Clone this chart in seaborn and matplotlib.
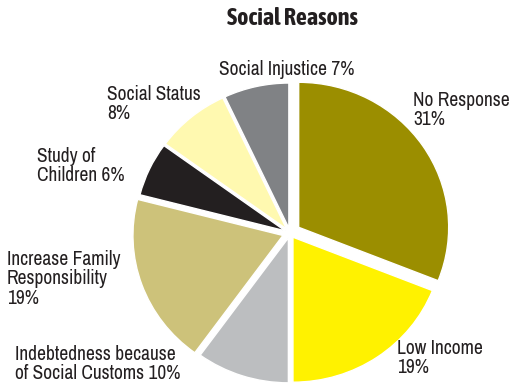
import matplotlib
matplotlib.use("Agg")
import matplotlib.pyplot as plt
from matplotlib import font_manager as fm
import seaborn as sns

# Social reasons survey results (percent), clockwise from 12 o'clock
categories = ["No Response", "Low Income", "Indebtedness because of Social Customs",
              "Increase Family Responsibility", "Study of Children", "Social Status",
              "Social Injustice"]
values = [31, 19, 10, 19, 6, 8, 7]
label_texts = ["No Response\n31%", "Low Income\n19%", "Indebtedness because\nof Social Customs 10%",
               "Increase Family\nResponsibility\n19%", "Study of\nChildren 6%", "Social Status\n8%",
               "Social Injustice 7%"]
colors = ["#9b8e00", "#fff200", "#bcbec0", "#cdc27a", "#231f20", "#fff9b0", "#808285"]

sns.set_theme(style="white")

# prefer a narrow face if one is around, else Lato
fonts = fm.fontManager.ttflist
narrow = sorted({f.name for f in fonts if "Narrow" in f.name or "Condensed" in f.name})
base = narrow[0] if narrow else "Lato"
narrow_bold = sorted({f.name for f in fonts
                      if ("Narrow" in f.name or "Condensed" in f.name)
                      and (f.weight == "bold" or (isinstance(f.weight, int) and f.weight >= 600))})
title_font = narrow_bold[0] if narrow_bold else "Lato"
plt.rcParams["font.family"] = [base, "DejaVu Sans"]
fs = 14 if narrow else 11.5

fig = plt.figure(figsize=(5.11, 3.87), dpi=100)
ax = fig.add_axes([0, 0, 1, 1])

# explode per slice (No Response pulled out a bit further)
explode = [0.07, 0.035, 0.035, 0.05, 0.035, 0.035, 0.035]
ax.pie(values, colors=colors, startangle=90, counterclock=False,
       explode=explode, radius=1,
       wedgeprops=dict(edgecolor="white", linewidth=1))

# pixel layout: pie centre (cx, cy) from top-left, sx/sy px per unit
sx, sy = 150.0, 145.0
cx, cy = 290.0, 233.0
ax.set_aspect("auto")
ax.set_xlim(-cx / sx, (511 - cx) / sx)
ax.set_ylim(-(387 - cy) / sy, cy / sy)
ax.axis("off")

def px(x, y):
    return (x - cx) / sx, (cy - y) / sy

pos = [(413, 110, "left"), (397, 358, "left"), (15, 364, "left"),
       (7, 279, "left"), (37, 166, "left"), (107, 104, "left"),
       (287, 69, "center")]
for txt, (x, y, ha) in zip(label_texts, pos):
    ax.text(*px(x, y), txt, ha=ha, va="center", fontsize=fs, color="#231f20",
            linespacing=1.05)

ax.text(*px(292, 18), "Social Reasons", ha="center", va="center",
        fontsize=fs + 3.3 if narrow_bold else 14, fontweight="bold",
        family=[title_font, "DejaVu Sans"], color="#231f20")

fig.savefig("out.png", dpi=100)
